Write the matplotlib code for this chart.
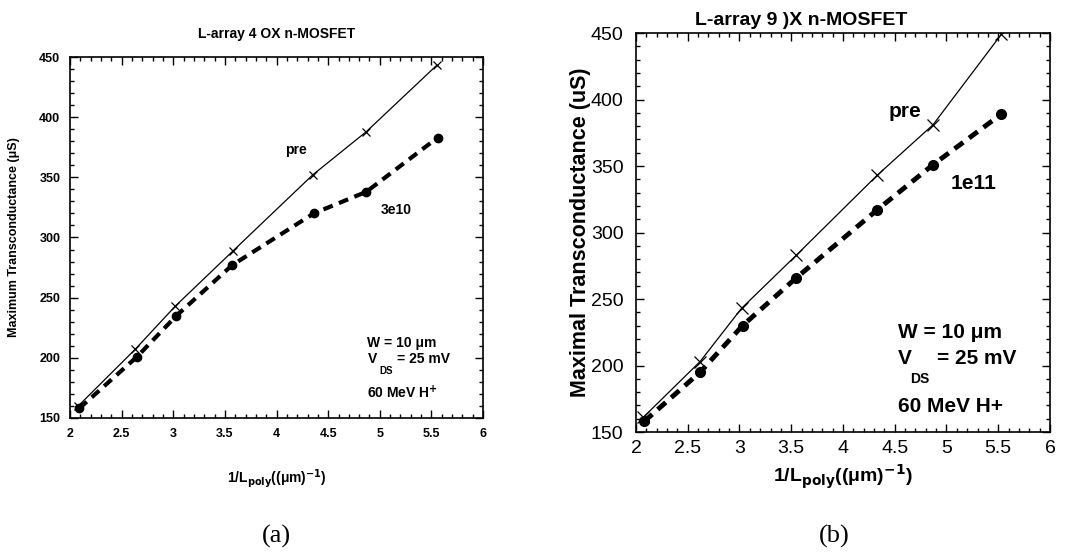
import matplotlib
matplotlib.use("Agg")
import matplotlib.pyplot as plt
from matplotlib.ticker import MultipleLocator

plt.rcParams['font.family'] = ['Liberation Sans', 'DejaVu Sans']

# Panel (a) data
xa_pre = [2.08, 2.63, 3.02, 3.58, 4.35, 4.87, 5.55]
ya_pre = [160, 207, 243, 289, 352, 388, 443]
xa_irr = [2.09, 2.65, 3.03, 3.57, 4.36, 4.87, 5.56]
ya_irr = [158, 201, 235, 277, 320, 338, 383]

# Panel (b) data
xb_pre = [2.07, 2.62, 3.02, 3.55, 4.33, 4.87, 5.53]
yb_pre = [161, 203, 243, 283, 343, 381, 449]
xb_irr = [2.08, 2.62, 3.03, 3.55, 4.33, 4.87, 5.53]
yb_irr = [158, 195, 230, 266, 317, 351, 389]

xticks = [2, 2.5, 3, 3.5, 4, 4.5, 5, 5.5, 6]
xtick_labels = ['2', '2.5', '3', '3.5', '4', '4.5', '5', '5.5', '6']
yticks = [150, 200, 250, 300, 350, 400, 450]

fig = plt.figure(figsize=(10.79, 5.54), dpi=100)

def style(ax, fs, bold, xpad, ypad):
    ax.set_xlim(2, 6)
    ax.set_ylim(150, 450)
    ax.set_xticks(xticks)
    ax.set_xticklabels(xtick_labels)
    ax.set_yticks(yticks)
    ax.xaxis.set_minor_locator(MultipleLocator(0.1))
    ax.yaxis.set_minor_locator(MultipleLocator(10))
    ax.tick_params(which='both', direction='in', top=True, right=True, width=1.0)
    ax.tick_params(which='major', length=6, labelsize=fs)
    ax.tick_params(axis='x', which='major', pad=xpad)
    ax.tick_params(axis='y', which='major', pad=ypad)
    ax.tick_params(which='minor', length=3)
    for lab in ax.get_xticklabels() + ax.get_yticklabels():
        if bold:
            lab.set_fontweight('bold')
    for s in ax.spines.values():
        s.set_linewidth(1.2)

# ---- Panel (a)
ax1 = fig.add_axes([0.0649, 0.2455, 0.3828, 0.6516])
ax1.plot(xa_pre, ya_pre, color='black', lw=0.9, marker='x', ms=6, mew=0.9)
ax1.plot(xa_irr, ya_irr, color='black', lw=3.0, ls=(0, (2.4, 1.6)), marker='o', ms=6)
style(ax1, 9, True, 7, 7)
ax1.set_title('L-array 4 OX n-MOSFET', fontsize=10, fontweight='bold', pad=14)
ax1.set_ylabel('Maximum Transconductance (\u03bcS)', fontsize=9, fontweight='bold', labelpad=14)
ax1.set_xlabel('1/L$_{\\mathbf{poly}}$((\u03bcm)$^{\\mathbf{-1}}$)', fontsize=10, fontweight='bold', labelpad=20)
ax1.text(4.19, 373, 'pre', fontsize=10, fontweight='bold', ha='center', va='center')
ax1.text(5.16, 323, '3e10', fontsize=10, fontweight='bold', ha='center', va='center')
ax1.text(4.88, 212, 'W = 10 \u03bcm', fontsize=10, fontweight='bold', ha='left', va='center')
ax1.text(4.88, 199, 'V', fontsize=10, fontweight='bold', ha='left', va='center')
ax1.text(5.00, 189, 'DS', fontsize=7, fontweight='bold', ha='left', va='center')
ax1.text(5.17, 199, '= 25 mV', fontsize=10, fontweight='bold', ha='left', va='center')
ax1.text(4.88, 171, '60 MeV H$^{\\mathbf{+}}$', fontsize=10, fontweight='bold', ha='left', va='center')

# ---- Panel (b)
ax2 = fig.add_axes([0.5894, 0.2202, 0.3837, 0.7202])
ax2.plot(xb_pre, yb_pre, color='black', lw=0.9, marker='x', ms=9, mew=0.9)
ax2.plot(xb_irr, yb_irr, color='black', lw=3.5, ls=(0, (2.2, 1.5)), marker='o', ms=7)
style(ax2, 14, False, 6, 9)
ax2.text(0.40, 1.01, 'L-array 9 )X n-MOSFET', transform=ax2.transAxes,
         fontsize=14, fontweight='bold', ha='center', va='bottom')
ax2.set_ylabel('Maximal Transconductance (uS)', fontsize=15.5, fontweight='bold', labelpad=0)
ax2.set_xlabel('1/L$_{\\mathbf{poly}}$((\u03bcm)$^{\\mathbf{-1}}$)', fontsize=14, fontweight='bold', labelpad=4)
ax2.text(4.6, 391, 'pre', fontsize=15, fontweight='bold', ha='center', va='center')
ax2.text(5.26, 337, '1e11', fontsize=15, fontweight='bold', ha='center', va='center')
ax2.text(4.53, 225, 'W = 10 \u03bcm', fontsize=15, fontweight='bold', ha='left', va='center')
ax2.text(4.53, 205, 'V', fontsize=15, fontweight='bold', ha='left', va='center')
ax2.text(4.74, 190, 'DS', fontsize=10, fontweight='bold', ha='center', va='center')
ax2.text(4.91, 205, '= 25 mV', fontsize=15, fontweight='bold', ha='left', va='center')
ax2.text(4.53, 169, '60 MeV H+', fontsize=15, fontweight='bold', ha='left', va='center')

fig.text(276 / 1079, 1 - 536 / 554, '(a)', fontsize=19, family='Liberation Serif', ha='center', va='center')
fig.text(834 / 1079, 1 - 536 / 554, '(b)', fontsize=19, family='Liberation Serif', ha='center', va='center')

fig.savefig('out.png', dpi=100)
